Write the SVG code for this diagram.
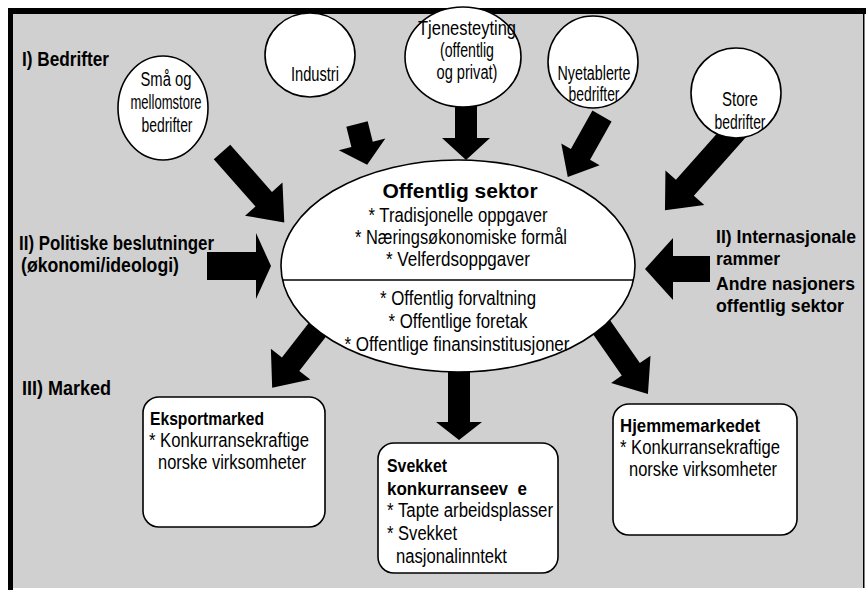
<svg xmlns="http://www.w3.org/2000/svg" width="868" height="596" viewBox="0 0 868 596">
<style>
.bg{fill:#d0d0d0}
.node{fill:#ffffff;stroke:#000;stroke-width:1.6}
.arr{fill:#000}
.t{font-family:"Liberation Sans",Arial,sans-serif;fill:#000}
.lab{font-weight:bold;font-size:20px}
.labr{font-weight:bold;font-size:18px}
.el{font-size:19.5px;text-anchor:middle}
.body{font-size:20px}
.bc{font-size:20.5px;text-anchor:middle}
.head{font-weight:bold;font-size:21px;text-anchor:middle}
.bt{font-weight:bold;font-size:19px}
</style>
<rect x="0" y="0" width="868" height="596" fill="#fff"/>
<rect class="bg" x="12" y="12" width="852" height="576"/>
<rect x="8" y="8" width="858" height="6" fill="#000"/>
<rect x="8" y="8" width="5" height="582" fill="#000"/>
<rect x="863" y="12" width="1.5" height="576" fill="#000"/>

<g id="connectors">
<polygon class="arr" transform="translate(222 152) rotate(48.5)" points="0,-11 63,-11 63,-25 94,0 63,25 63,11 0,11"/>
<polygon class="arr" transform="translate(357 124) rotate(76)" points="0,-11 21,-11 21,-24 42,0 21,24 21,11 0,11"/>
<polygon class="arr" transform="translate(466 104) rotate(90)" points="0,-11 34,-11 34,-24 56,0 34,24 34,11 0,11"/>
<polygon class="arr" transform="translate(602 116) rotate(119.3)" points="0,-11 44,-11 44,-22 70,0 44,22 44,11 0,11"/>
<polygon class="arr" transform="translate(738 128) rotate(131.6)" points="0,-12 80,-12 80,-26 110,0 80,26 80,12 0,12"/>
<polygon class="arr" transform="translate(207 266)" points="0,-14 49,-14 49,-33 64,0 49,33 49,14 0,14"/>
<polygon class="arr" transform="translate(710 269) rotate(180)" points="0,-13 37,-13 37,-31 65,0 37,31 37,13 0,13"/>
<polygon class="arr" transform="translate(325 320) rotate(127.9)" points="0,-11 56,-11 56,-25 86,0 56,25 56,11 0,11"/>
<polygon class="arr" transform="translate(459 360) rotate(90)" points="0,-11 62,-11 62,-23 80,0 62,23 62,11 0,11"/>
<polygon class="arr" transform="translate(600 325) rotate(55.2)" points="0,-11 54,-11 54,-24 84,0 54,24 54,11 0,11"/>
</g>

<g id="label-bedrifter"><text class="t lab" x="22" y="66" textLength="87" lengthAdjust="spacingAndGlyphs">I) Bedrifter</text></g>
<g id="label-politiske"><text class="t lab" x="19" y="250" textLength="195" lengthAdjust="spacingAndGlyphs">II) Politiske beslutninger</text><text class="t lab" x="21" y="272" textLength="158" lengthAdjust="spacingAndGlyphs">(økonomi/ideologi)</text></g>
<g id="label-internasjonale"><text class="t labr" x="716" y="243" textLength="140" lengthAdjust="spacingAndGlyphs">II) Internasjonale</text><text class="t labr" x="716" y="265" textLength="64" lengthAdjust="spacingAndGlyphs">rammer</text><text class="t labr" x="716" y="290" textLength="139" lengthAdjust="spacingAndGlyphs">Andre nasjoners</text><text class="t labr" x="716" y="312" textLength="128" lengthAdjust="spacingAndGlyphs">offentlig sektor</text></g>
<g id="label-marked"><text class="t lab" x="22" y="395" textLength="89" lengthAdjust="spacingAndGlyphs">III) Marked</text></g>

<g id="node-sma">
<ellipse class="node" cx="163" cy="108" rx="45" ry="52"/>
<text class="t el" x="166" y="86" textLength="51" lengthAdjust="spacingAndGlyphs">Små og</text>
<text class="t el" x="166" y="109" textLength="71" lengthAdjust="spacingAndGlyphs">mellomstore</text>
<text class="t el" x="167" y="132" textLength="51" lengthAdjust="spacingAndGlyphs">bedrifter</text>
</g>
<g id="node-industri">
<ellipse class="node" cx="310" cy="55" rx="45" ry="42"/>
<text class="t el" x="315" y="81" textLength="48" lengthAdjust="spacingAndGlyphs">Industri</text>
</g>
<g id="node-tjeneste">
<ellipse class="node" cx="463" cy="57" rx="58" ry="50"/>
<text class="t el" x="467" y="35" textLength="98" lengthAdjust="spacingAndGlyphs">Tjenesteyting</text>
<text class="t el" x="467" y="57" textLength="54" lengthAdjust="spacingAndGlyphs">(offentlig</text>
<text class="t el" x="467" y="79" textLength="61" lengthAdjust="spacingAndGlyphs">og privat)</text>
</g>
<g id="node-nyetablerte">
<ellipse class="node" cx="593" cy="62" rx="45" ry="46"/>
<text class="t el" x="594" y="80" textLength="73" lengthAdjust="spacingAndGlyphs">Nyetablerte</text>
<text class="t el" x="594" y="101" textLength="51" lengthAdjust="spacingAndGlyphs">bedrifter</text>
</g>
<g id="node-store">
<ellipse class="node" cx="736" cy="93" rx="45" ry="45"/>
<text class="t el" x="740" y="106" textLength="36" lengthAdjust="spacingAndGlyphs">Store</text>
<text class="t el" x="740" y="129" textLength="51" lengthAdjust="spacingAndGlyphs">bedrifter</text>
</g>

<g id="node-offentlig">
<ellipse class="node" cx="458" cy="266" rx="177" ry="106"/>
<line x1="282" y1="280" x2="634" y2="280" stroke="#000" stroke-width="1.6"/>
<text class="t head" x="460" y="198">Offentlig sektor</text>
<text class="t bc" x="458" y="222" textLength="179" lengthAdjust="spacingAndGlyphs">* Tradisjonelle oppgaver</text>
<text class="t bc" x="461" y="244" textLength="212" lengthAdjust="spacingAndGlyphs">* Næringsøkonomiske formål</text>
<text class="t bc" x="458" y="266" textLength="144" lengthAdjust="spacingAndGlyphs">* Velferdsoppgaver</text>
<text class="t bc" x="458" y="305" textLength="156" lengthAdjust="spacingAndGlyphs">* Offentlig forvaltning</text>
<text class="t bc" x="458" y="328" textLength="139" lengthAdjust="spacingAndGlyphs">* Offentlige foretak</text>
<text class="t bc" x="457" y="351" textLength="225" lengthAdjust="spacingAndGlyphs">* Offentlige finansinstitusjoner</text>
</g>

<g id="node-eksport">
<rect class="node" x="143" y="397" width="182" height="130" rx="16"/>
<text class="t bt" x="150" y="425" textLength="114" lengthAdjust="spacingAndGlyphs">Eksportmarked</text>
<text class="t body" x="149" y="447" textLength="160" lengthAdjust="spacingAndGlyphs">* Konkurransekraftige</text>
<text class="t body" x="158" y="469" textLength="148" lengthAdjust="spacingAndGlyphs">norske virksomheter</text>
</g>
<g id="node-svekket">
<rect class="node" x="378" y="443" width="180" height="130" rx="16"/>
<text class="t bt" x="387" y="472" textLength="60" lengthAdjust="spacingAndGlyphs">Svekket</text>
<text class="t bt" x="387" y="495" textLength="140" lengthAdjust="spacingAndGlyphs" xml:space="preserve" style="white-space:pre">konkurranseev  e</text>
<text class="t body" x="387" y="517" textLength="166" lengthAdjust="spacingAndGlyphs">* Tapte arbeidsplasser</text>
<text class="t body" x="387" y="540" textLength="70" lengthAdjust="spacingAndGlyphs">* Svekket</text>
<text class="t body" x="396" y="563" textLength="111" lengthAdjust="spacingAndGlyphs">nasjonalinntekt</text>
</g>
<g id="node-hjemme">
<rect class="node" x="613" y="404" width="184" height="131" rx="16"/>
<text class="t bt" x="620" y="432" textLength="140" lengthAdjust="spacingAndGlyphs">Hjemmemarkedet</text>
<text class="t body" x="620" y="454" textLength="160" lengthAdjust="spacingAndGlyphs">* Konkurransekraftige</text>
<text class="t body" x="629" y="476" textLength="148" lengthAdjust="spacingAndGlyphs">norske virksomheter</text>
</g>
</svg>
